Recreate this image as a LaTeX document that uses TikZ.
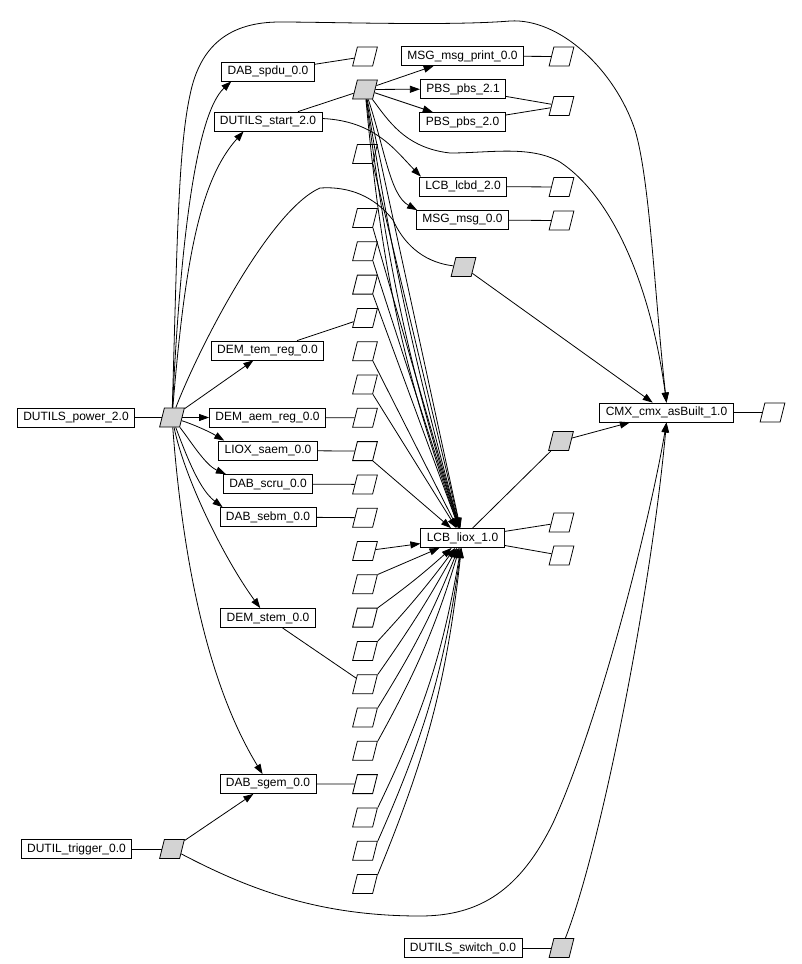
\documentclass[tikz,border=0pt]{standalone}
\usepackage{fontspec}
\setmainfont{Liberation Sans}
\usetikzlibrary{arrows.meta}
\definecolor{portgray}{RGB}{211,211,211}
\tikzset{
  comp/.style={draw, rectangle, inner xsep=6pt, inner ysep=0pt, minimum height=19pt, font=\fontsize{12}{14}\selectfont},
  port/.style={draw, rectangle, xslant=0.25, minimum width=20pt, minimum height=19pt, inner sep=0pt},
  used/.style={port, fill=portgray},
  feed/.style={-{Triangle[length=10pt,width=7pt]}}
}

\begin{document}
\begin{tikzpicture}[x=1pt, y=1pt, line width=0.8pt]
    %%Background
    \useasboundingbox (0,0) rectangle (801,-964);

    %%Components
    \node[comp] (spdu) at (268,-71.5) {DAB\_spdu\_0.0};
    \node[comp] (start) at (268,-121.5) {DUTILS\_start\_2.0};
    \node[comp] (msgprint) at (462.5,-56) {MSG\_msg\_print\_0.0};
    \node[comp] (pbsb) at (463,-89) {PBS\_pbs\_2.1};
    \node[comp] (pbsa) at (462.5,-122) {PBS\_pbs\_2.0};
    \node[comp] (lcbd) at (463,-186.5) {LCB\_lcbd\_2.0};
    \node[comp] (msg) at (462.5,-220) {MSG\_msg\_0.0};
    \node[comp] (temreg) at (267.5,-350.5) {DEM\_tem\_reg\_0.0};
    \node[comp] (power) at (76,-417.5) {DUTILS\_power\_2.0};
    \node[comp] (aemreg) at (267.5,-417.5) {DEM\_aem\_reg\_0.0};
    \node[comp] (saem) at (268,-450.5) {LIOX\_saem\_0.0};
    \node[comp] (scru) at (268,-484) {DAB\_scru\_0.0};
    \node[comp] (sebm) at (268,-517) {DAB\_sebm\_0.0};
    \node[comp] (liox) at (462.5,-538) {LCB\_liox\_1.0};
    \node[comp] (cmx) at (666.5,-412.5) {CMX\_cmx\_asBuilt\_1.0};
    \node[comp] (stem) at (268,-618) {DEM\_stem\_0.0};
    \node[comp] (sgem) at (268,-784) {DAB\_sgem\_0.0};
    \node[comp] (trigger) at (76.5,-849) {DUTIL\_trigger\_0.0};
    \node[comp] (switch) at (463,-948) {DUTILS\_switch\_0.0};

    %%Ports, right side
    \node[port] (w_msgprint) at (561.5,-56.5) {};
    \node[port] (w_pbs) at (561.5,-106) {};
    \node[port] (w_lcbd) at (561.5,-187) {};
    \node[port] (w_msg) at (561.5,-220.5) {};
    \node[used] (g_two) at (463.5,-267) {};
    \node[used] (g_power) at (172,-417.5) {};
    \node[used] (g_liox) at (561,-441) {};
    \node[port] (w_cmx) at (772.5,-412.5) {};
    \node[port] (w_lioxa) at (561.5,-522.5) {};
    \node[port] (w_lioxb) at (561.5,-555.5) {};
    \node[used] (g_trigger) at (172,-849) {};
    \node[used] (g_switch) at (561.5,-948) {};

    %%Ports, middle column
    \node[port] (w_spdu) at (365,-56.5) {};
    \node[used] (g_start) at (365,-89.5) {};
    \node[port] (d1) at (365,-154) {};
    \node[port] (d2) at (365,-218) {};
    \node[port] (d3) at (365,-251.3) {};
    \node[port] (d4) at (365,-284.6) {};
    \node[port] (d5) at (365,-317.9) {};
    \node[port] (d6) at (365,-351.2) {};
    \node[port] (d7) at (365,-384.5) {};
    \node[port] (d8) at (365,-417.8) {};
    \node[port] (d9) at (365,-451.1) {};
    \node[port] (d10) at (365,-484.4) {};
    \node[port] (d11) at (365,-517.7) {};
    \node[port] (d12) at (365,-551) {};
    \node[port] (d13) at (365,-584.3) {};
    \node[port] (d14) at (365,-617.6) {};
    \node[port] (d15) at (365,-650.9) {};
    \node[port] (d16) at (365,-684.2) {};
    \node[port] (d17) at (365,-717.5) {};
    \node[port] (d18) at (365,-750.8) {};
    \node[port] (d19) at (365,-784.1) {};
    \node[port] (d20) at (365,-817.4) {};
    \node[port] (d21) at (365,-850.7) {};
    \node[port] (d22) at (365,-884) {};

    %%Outputs
    \draw (spdu) -- (w_spdu);
    \draw (start) -- (g_start);
    \draw (msgprint) -- (w_msgprint);
    \draw (pbsb) -- (w_pbs);
    \draw (pbsa) -- (w_pbs);
    \draw (lcbd) -- (w_lcbd);
    \draw (msg) -- (w_msg);
    \draw (temreg) -- (d5);
    \draw (power) -- (g_power);
    \draw (aemreg) -- (d8);
    \draw (saem) -- (d9);
    \draw (scru) -- (d10);
    \draw (sebm) -- (d11);
    \draw (stem) -- (d16);
    \draw (sgem) -- (d19);
    \draw (trigger) -- (g_trigger);
    \draw (switch) -- (g_switch);
    \draw (cmx) -- (w_cmx);
    \draw (liox) -- (g_liox);
    \draw (liox) -- (w_lioxa);
    \draw (liox) -- (w_lioxb);
    \draw (g_power) .. controls (200,-345) and (270,-210) .. (320,-188)
          .. controls (350,-186) and (375,-197) .. (393,-220)
          .. controls (402,-240) and (420,-262) .. (g_two);

    %%From DUTILS_power
    \draw[feed] (g_power) .. controls (180,-250) and (195,-115) .. ([xshift=10pt]spdu.south west);
    \draw[feed] (g_power) .. controls (185,-260) and (200,-180) .. ([xshift=30pt]start.south west);
    \draw[feed] (g_power) -- (temreg);
    \draw[feed] (g_power) -- (aemreg);
    \draw[feed] (g_power) .. controls (195,-425) and (210,-432) .. ([xshift=6pt]saem.north west);
    \draw[feed] (g_power) .. controls (190,-440) and (205,-465) .. ([xshift=3pt]scru.north west);
    \draw[feed] (g_power) .. controls (188,-460) and (200,-490) .. ([xshift=3pt]sebm.north west);
    \draw[feed] (g_power) .. controls (185,-480) and (225,-560) .. ([xshift=40pt]stem.north west);
    \draw[feed] (g_power) .. controls (182,-550) and (205,-680) .. ([xshift=43pt]sgem.north west);
    \draw[feed] (g_power) .. controls (177,-250) and (178,-150) .. (190,-95)
          .. controls (200,-45) and (230,-22) .. (280,-22)
          .. controls (330,-22) and (450,-26) .. (510,-21)
          .. controls (560,-18) and (615,-70) .. (635,-130)
          .. controls (650,-180) and (655,-300) .. (cmx.north);

    %%From DUTILS_start
    \draw[feed] ([yshift=3pt]start.east) .. controls (375,-121) and (395,-150) .. ([xshift=2pt]lcbd.north west);
    \draw[feed] (g_start) -- (msgprint);
    \draw[feed] (g_start) -- (pbsb);
    \draw[feed] (g_start) -- (pbsa);
    \draw[feed] (g_start) .. controls (385,-150) and (390,-195) .. ([xshift=1pt]msg.north west);
    \draw[feed] (g_start) .. controls (388,-120) and (405,-148) .. (450,-153)
          .. controls (490,-153) and (530,-145) .. (560,-162)
          .. controls (610,-195) and (650,-280) .. (cmx.north);
    \draw[feed] (g_start) -- (liox);
    \draw[feed] (g_start) to[bend right=3] (liox);
    \draw[feed] (g_start) to[bend right=5] (liox);
    \draw[feed] (g_start) to[bend right=7] (liox);

    %%Into LCB_liox
    \draw[feed] (d1.south east) -- (liox);
    \draw[feed] (d2.south east) -- (liox);
    \draw[feed] (d3.south east) -- (liox);
    \draw[feed] (d4.south east) -- (liox);
    \draw[feed] (d6.south east) -- (liox);
    \draw[feed] (d7.south east) -- (liox);
    \draw[feed] (d9.south east) -- (liox);
    \draw[feed] (d12) -- (liox);
    \draw[feed] (d13.north east) -- (liox);
    \draw[feed] (d14.north east) to[bend right=3] (liox);
    \draw[feed] (d15.north east) to[bend right=3] (liox);
    \draw[feed] (d16.north east) to[bend right=3] (liox);
    \draw[feed] (d17.north east) to[bend right=5] (liox);
    \draw[feed] (d18.north east) to[bend right=6] (liox);
    \draw[feed] (d20.north east) to[bend right=8] (liox);
    \draw[feed] (d21.north east) to[bend right=8] (liox);
    \draw[feed] (d22.north east) to[bend right=8] (liox);

    %%Into CMX
    \draw[feed] (g_two) -- (cmx);
    \draw[feed] (g_liox) -- (cmx);
    \draw[feed] (g_trigger) -- (sgem);
    \draw[feed] (g_trigger) .. controls (250,-890) and (320,-916) .. (420,-916)
          .. controls (480,-916) and (520,-890) .. (553,-823)
          .. controls (600,-720) and (650,-520) .. (cmx.south);
    \draw[feed] (g_switch) .. controls (600,-850) and (650,-600) .. (cmx.south);
\end{tikzpicture}
\end{document}
